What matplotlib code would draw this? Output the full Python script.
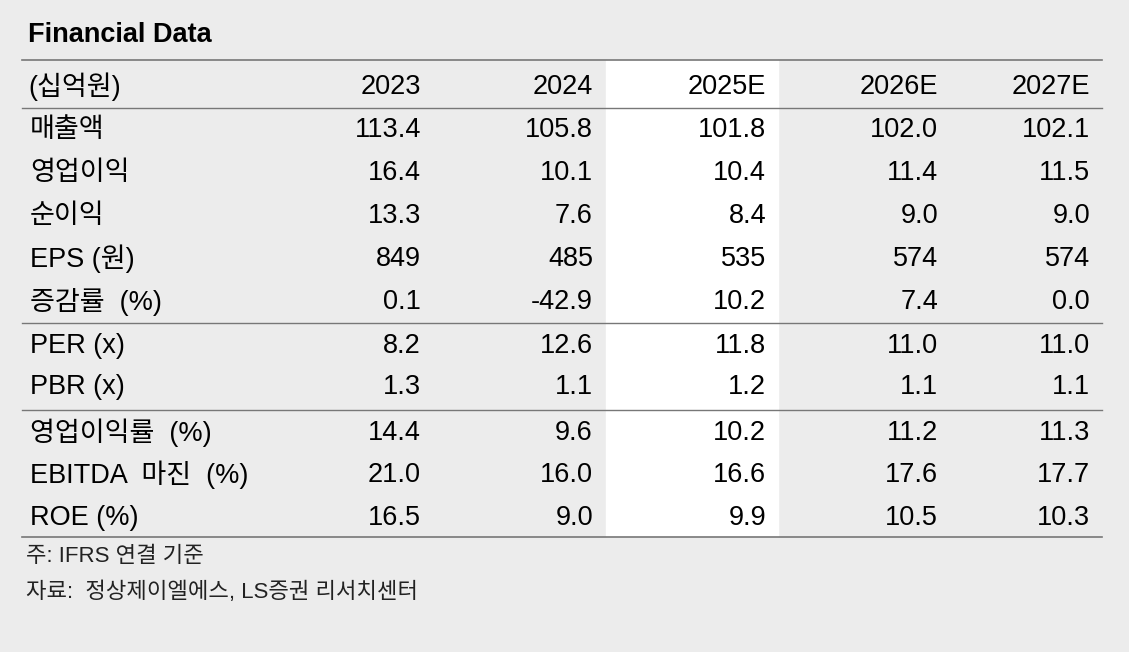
import matplotlib.pyplot as plt

plt.rcParams['font.family'] = ['Liberation Sans', 'Noto Sans CJK KR', 'DejaVu Sans']

title = "Financial Data"
unit = "(십억원)"
years = ["2023", "2024", "2025E", "2026E", "2027E"]
row_labels = ["매출액", "영업이익", "순이익", "EPS (원)", "증감률  (%)",
              "PER (x)", "PBR (x)",
              "영업이익률  (%)", "EBITDA  마진  (%)", "ROE (%)"]
values = [
    ["113.4", "105.8", "101.8", "102.0", "102.1"],
    ["16.4", "10.1", "10.4", "11.4", "11.5"],
    ["13.3", "7.6", "8.4", "9.0", "9.0"],
    ["849", "485", "535", "574", "574"],
    ["0.1", "-42.9", "10.2", "7.4", "0.0"],
    ["8.2", "12.6", "11.8", "11.0", "11.0"],
    ["1.3", "1.1", "1.2", "1.1", "1.1"],
    ["14.4", "9.6", "10.2", "11.2", "11.3"],
    ["21.0", "16.0", "16.6", "17.6", "17.7"],
    ["16.5", "9.0", "9.9", "10.5", "10.3"],
]
notes = ["주: IFRS 연결 기준", "자료:  정상제이엘에스, LS증권 리서치센터"]

bg = "#ececec"
fig = plt.figure(figsize=(11.29, 6.52), dpi=100, facecolor=bg)
ax = fig.add_axes([0, 0, 1, 1])
ax.set_xlim(0, 1129)
ax.set_ylim(652, 0)
ax.axis("off")

# highlighted 2025E column
ax.add_patch(plt.Rectangle((606, 60), 172, 476, color="white", zorder=0))

ax.text(28, 35, title, fontsize=19.5, fontweight="bold", va="center", ha="left")
ax.plot([22, 1102], [60, 60], color="#777777", lw=1.2)

fs = 19.5
col_x = [421, 593, 766, 938, 1090]
ax.text(28, 87, unit, fontsize=fs, va="center", ha="left")
for x, y in zip(col_x, years):
    ax.text(x, 87, y, fontsize=fs, va="center", ha="right")
ax.plot([22, 1102], [108, 108], color="#777777", lw=1.0)

row_y = [130, 173, 216, 259, 302, 346, 387, 433, 475, 518]
for y, lab, vals in zip(row_y, row_labels, values):
    ax.text(30, y, lab, fontsize=fs, va="center", ha="left")
    for x, v in zip(col_x, vals):
        ax.text(x, y, v, fontsize=fs, va="center", ha="right")

for y in [323, 410]:
    ax.plot([22, 1102], [y, y], color="#777777", lw=1.0)
ax.plot([22, 1102], [537, 537], color="#777777", lw=1.2)

ax.text(26, 556, notes[0], fontsize=16, va="center", ha="left", color="#222222")
ax.text(26, 592, notes[1], fontsize=16, va="center", ha="left", color="#222222")

fig.savefig("out.png", dpi=100, facecolor=bg)
